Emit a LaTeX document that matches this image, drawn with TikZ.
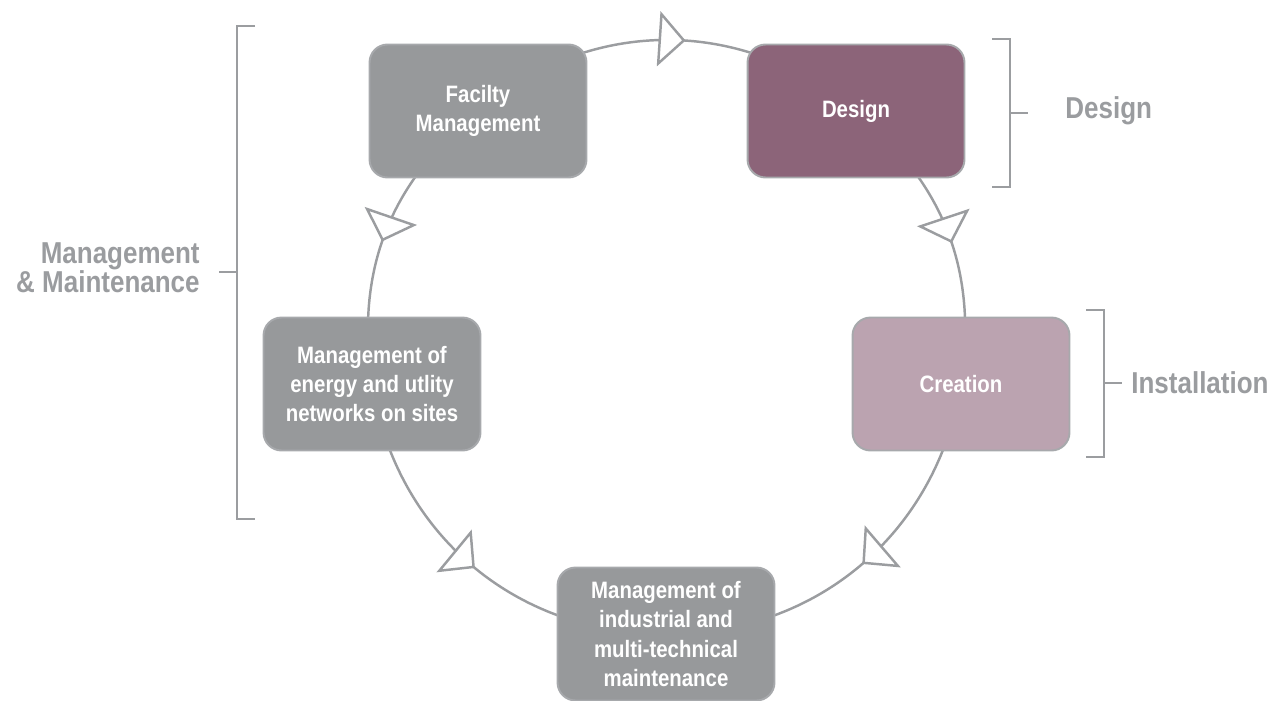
\documentclass[tikz,border=0pt]{standalone}
\usepackage{fontspec}
\setmainfont{Liberation Sans}[FakeStretch=0.86]
\usepackage{tikz}
\usetikzlibrary{arrows.meta, decorations.markings, backgrounds}
\definecolor{boxgray}{HTML}{97999B}
\definecolor{edgegray}{HTML}{A7A9AC}
\definecolor{linegray}{HTML}{9B9DA0}
\definecolor{labelgray}{HTML}{9A9C9F}
\definecolor{designpurple}{HTML}{8C6479}
\definecolor{creationmauve}{HTML}{BBA3B0}
\newcommand{\boxfont}{\fontsize{13.5}{16.7}\selectfont\bfseries}
\newcommand{\tagfont}{\fontsize{17.2}{16.5}\selectfont\bfseries}
\tikzset{
  stage/.style={rectangle, rounded corners=0.36cm, draw=edgegray, line width=1.1pt, fill=boxgray, minimum width=4.34cm, minimum height=2.66cm, align=center, text=white, font=\boxfont},
  tag/.style={text=labelgray, font=\tagfont, inner sep=0pt},
  flow/.style={draw=linegray, line width=1.4pt},
  flowmark/.style={postaction={decorate}, decoration={markings, mark=at position #1 with {\arrow{Triangle[length=0.54cm, width=1.1cm, fill=white]}}}},
  bracket/.style={draw=linegray, line width=1.1pt}
}
\begin{document}
\begin{tikzpicture}[x=0.02cm, y=-0.02cm]
  \useasboundingbox (0,0) rectangle (1273,700);
  % stages of the cycle
  \node[stage] (fac) at (478,111) {Facilty\\Management};
  \node[stage, fill=designpurple] (des) at (856,111) {Design};
  \node[stage, fill=creationmauve] (cre) at (961,384) {Creation};
  \node[stage] (ene) at (372,384) {Management of\\energy and utlity\\networks on sites};
  \node[stage] (ind) at (666,634) {Management of\\industrial and\\multi-technical\\maintenance};
  % ring behind the stages
  \begin{scope}[on background layer]
    \draw[flow, flowmark=0.545] (fac.center) to[bend left=40] (des.center);
    \draw[flow, flowmark=0.537] (des.center) to[bend left=29.5] (cre.center);
    \draw[flow, flowmark=0.496] (cre.center) to[bend left=40.5] (ind.center);
    \draw[flow, flowmark=0.532] (fac.center) to[bend right=29.6] (ene.center);
    \draw[flow, flowmark=0.511] (ene.center) to[bend right=40.5] (ind.center);
  \end{scope}
  % phase brackets
  \draw[bracket] (255,26) -- (237,26) -- (237,519) -- (255,519) (219,272) -- (237,272);
  \draw[bracket] (992,39) -- (1010,39) -- (1010,187) -- (992,187) (1010,113) -- (1028,113);
  \draw[bracket] (1086,310) -- (1104,310) -- (1104,457) -- (1086,457) (1104,383) -- (1122,383);
  \node[tag, anchor=east, align=right] (mm) at (200,268) {Management\\\& Maintenance};
  \node[tag, anchor=west] (dsg) at (1065,111) {Design};
  \node[tag, anchor=west] (ins) at (1131,383) {Installation};
\end{tikzpicture}
\end{document}
